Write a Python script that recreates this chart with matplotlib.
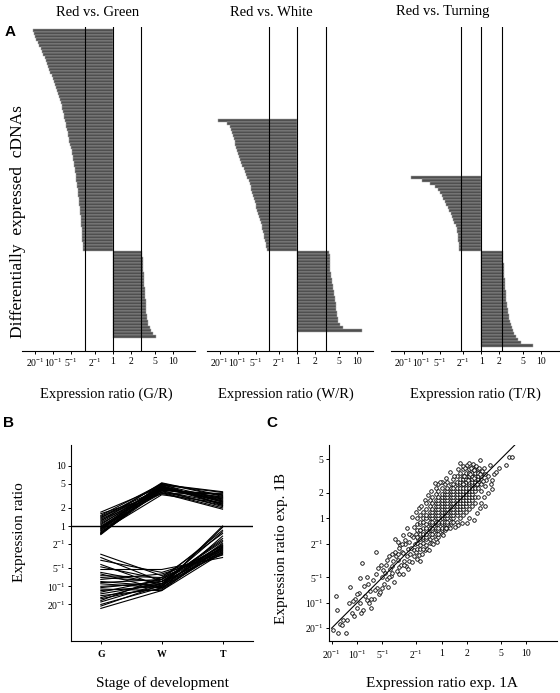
import numpy as np
import matplotlib
matplotlib.use('Agg')
import matplotlib.pyplot as plt
from matplotlib.ticker import FixedLocator, FixedFormatter, NullLocator

plt.rcParams['font.family'] = ['Liberation Serif', 'DejaVu Serif']
plt.rcParams['mathtext.fontset'] = 'custom'
plt.rcParams['mathtext.rm'] = 'Liberation Serif'
plt.rcParams['mathtext.it'] = 'Liberation Serif:italic'
plt.rcParams['mathtext.bf'] = 'Liberation Serif:bold'

# ---------------- data ----------------
titles_a = ["Red vs. Green", "Red vs. White", "Red vs. Turning"]
xlabels_a = ["Expression ratio (G/R)", "Expression ratio (W/R)", "Expression ratio (T/R)"]
thresholds_a = [(1/3, 3), (1/3, 3), (1/2.2, 2.2)]

ratio_tick_vals = [1/20, 1/10, 1/5, 1/2, 1, 2, 5, 10]
ratio_tick_labels = [r'$20^{-1}$', r'$10^{-1}$', r'$5^{-1}$', r'$2^{-1}$', '1', '2', '5', '10']

# Red vs Green (G/R): repressed (top to bottom), induced (top to bottom)
green_neg = [0.045, 0.047, 0.050, 0.052, 0.055, 0.058, 0.062, 0.065, 0.068, 0.072,
             0.076, 0.079, 0.082, 0.085, 0.088, 0.093, 0.097, 0.101, 0.105, 0.110,
             0.114, 0.119, 0.124, 0.129, 0.133, 0.137, 0.141, 0.145, 0.149, 0.153,
             0.157, 0.161, 0.165, 0.169, 0.173, 0.177, 0.182, 0.186, 0.191, 0.197,
             0.203, 0.207, 0.211, 0.215, 0.219, 0.223, 0.227, 0.231, 0.235, 0.239,
             0.243, 0.247, 0.251, 0.255, 0.259, 0.263, 0.267, 0.271, 0.274, 0.277,
             0.280, 0.283, 0.287, 0.290, 0.292, 0.295, 0.297, 0.299, 0.301, 0.303,
             0.306, 0.309, 0.312, 0.315]
green_pos = [3.10, 3.12, 3.14, 3.17, 3.20, 3.22, 3.24, 3.26, 3.28, 3.30,
             3.33, 3.36, 3.40, 3.43, 3.46, 3.49, 3.51, 3.53, 3.56, 3.58,
             3.60, 3.65, 3.72, 3.80, 3.92, 4.10, 4.30, 4.60, 5.30]

white_neg = [0.047, 0.066, 0.073, 0.077, 0.081, 0.083, 0.086, 0.089, 0.091, 0.094,
             0.098, 0.102, 0.106, 0.110, 0.115, 0.120, 0.126, 0.132, 0.139, 0.146,
             0.152, 0.158, 0.164, 0.170, 0.176, 0.182, 0.188, 0.194, 0.200, 0.206,
             0.213, 0.220, 0.228, 0.236, 0.244, 0.252, 0.260, 0.267, 0.274, 0.281,
             0.288, 0.295, 0.302, 0.310]
white_pos = [3.45, 3.47, 3.49, 3.51, 3.53, 3.55, 3.58, 3.63, 3.70, 3.78,
             3.86, 3.93, 4.02, 4.10, 4.18, 4.26, 4.32, 4.38, 4.44, 4.50,
             4.56, 4.64, 4.75, 4.90, 5.15, 5.90, 12.0]

turn_neg = [0.065, 0.100, 0.140, 0.170, 0.190, 0.205, 0.218, 0.230, 0.243, 0.256,
            0.272, 0.288, 0.305, 0.320, 0.338, 0.355, 0.370, 0.385, 0.395, 0.402,
            0.408, 0.413, 0.418, 0.423, 0.428]
turn_pos = [2.29, 2.31, 2.33, 2.35, 2.37, 2.39, 2.41, 2.42, 2.44, 2.46,
            2.48, 2.50, 2.52, 2.55, 2.58, 2.61, 2.64, 2.67, 2.72, 2.78,
            2.84, 2.90, 2.96, 3.03, 3.12, 3.22, 3.35, 3.55, 3.75, 4.05,
            4.60, 7.30]

# Panel B: stage profiles (G, W, T)
stages = ["G", "W", "T"]
up_G = [1.7, 1.6, 1.5, 1.45, 1.4, 1.35, 1.3, 1.25, 1.2, 1.15, 1.1, 1.05, 1.0, 0.97,
        0.95, 0.92, 0.9, 0.88, 0.85, 0.83, 0.8, 0.78, 0.76, 0.75, 0.74, 0.72]
up_W = [4.5, 3.4, 5.0, 4.2, 3.8, 4.9, 4.0, 3.6, 5.2, 4.4, 3.9, 4.7, 4.1, 3.5,
        4.8, 4.3, 3.7, 5.1, 4.6, 4.0, 3.3, 4.5, 4.2, 3.9, 4.8, 4.4]
up_T = [2.6, 3.5, 2.2, 3.0, 2.4, 3.7, 2.8, 2.0, 3.2, 2.5, 3.4, 2.3, 2.9, 1.9,
        3.6, 2.7, 2.2, 3.1, 2.5, 3.3, 2.4, 2.6, 3.0, 2.1, 2.8, 2.3]
lo_G = [0.34, 0.30, 0.27, 0.23, 0.21, 0.19, 0.17, 0.16, 0.15, 0.14, 0.13, 0.12, 0.115, 0.11,
        0.10, 0.095, 0.09, 0.085, 0.08, 0.075, 0.07, 0.065, 0.062, 0.058, 0.055, 0.05, 0.047, 0.043]
lo_W = [0.15, 0.12, 0.17, 0.10, 0.13, 0.19, 0.11, 0.09, 0.14, 0.12, 0.16, 0.10, 0.13, 0.095,
        0.11, 0.12, 0.085, 0.10, 0.13, 0.11, 0.09, 0.12, 0.10, 0.14, 0.11, 0.095, 0.105, 0.085]
lo_T = [0.42, 0.55, 0.35, 0.95, 0.48, 0.30, 0.62, 0.40, 0.75, 0.45, 0.33, 0.52, 0.85, 0.38,
        0.44, 0.58, 0.36, 1.0, 0.47, 0.41, 0.68, 0.34, 0.50, 0.39, 0.80, 0.43, 0.37, 0.46]

# Panel C: scatter, log10 ratios (exp 1A, exp 1B)
c_tail = [(-1.28, -1.32), (-1.25, -0.92), (-1.24, -1.09), (-1.22, -1.36), (-1.2, -1.25),
          (-1.18, -1.26), (-1.16, -1.2), (-1.13, -1.36), (-1.12, -1.2), (-1.1, -1.0),
          (-1.08, -0.81), (-1.06, -1.12), (-1.04, -1.16), (-1.02, -0.95), (-1.0, -1.06),
          (-0.98, -0.88), (-0.97, -1.0), (-0.96, -0.71), (-0.94, -0.53), (-0.93, -1.085),
          (-0.9, -0.92), (-0.885, -0.97), (-0.87, -0.78), (-0.85, -0.86), (-0.83, -1.06),
          (-0.81, -0.73), (-0.8, -0.95), (-0.78, -0.66), (-0.77, -0.395), (-0.76, -0.82),
          (-0.75, -0.59), (-0.74, -0.9), (-0.73, -0.87), (-0.71, -0.7), (-0.69, -0.61),
          (-0.68, -0.78), (-0.66, -0.55), (-0.65, -0.49), (-0.64, -0.72), (-0.63, -0.81),
          (-0.61, -0.6), (-0.6, -0.68), (-0.59, -0.65), (-0.57, -0.5), (-0.56, -0.75),
          (-0.55, -0.24), (-0.54, -0.45), (-0.53, -0.62), (-0.51, -0.49), (-0.5, -0.58),
          (-0.49, -0.32), (-0.48, -0.55), (-0.47, -0.4), (-0.46, -0.66), (-0.45, -0.41),
          (-0.44, -0.5), (-0.43, -0.3), (-0.42, -0.57), (-0.41, -0.45), (-0.4, -0.36),
          (-0.88, -0.7), (-0.84, -0.96), (-0.79, -0.85), (-0.72, -0.55), (-0.7, -0.82),
          (-0.67, -0.65), (-0.62, -0.7), (-0.58, -0.56), (-0.52, -0.42), (-0.5, -0.66),
          (-0.92, -0.8), (-1.0, -0.9), (-1.05, -0.98), (-0.95, -1.12), (-0.86, -1.0)]
c_mid = [(-0.39, -0.5), (-0.38, -0.28), (-0.37, -0.42), (-0.36, -0.35), (-0.35, -0.52),
         (-0.34, -0.22), (-0.33, -0.38), (-0.32, -0.45), (-0.31, -0.3), (-0.3, -0.18),
         (-0.3, -0.4), (-0.29, -0.48), (-0.28, -0.25), (-0.27, -0.44), (-0.26, -0.14),
         (-0.33, -0.1), (-0.36, -0.2), (-0.39, -0.18), (-0.43, -0.26), (-0.41, -0.12),
         (-0.45, -0.2), (-0.47, -0.3), (-0.5, -0.35), (-0.52, -0.28), (-0.55, -0.4),
         (-0.58, -0.42), (-0.62, -0.45), (-0.35, 0.02), (-0.3, 0.08), (-0.27, 0.12),
         (-0.24, 0.15), (-0.2, 0.22), (-0.16, 0.28), (-0.12, 0.32), (-0.23, -0.42),
         (-0.2, -0.38), (-0.17, -0.36), (-0.26, -0.5), (-0.4, -0.6), (-0.44, -0.55)]
c_band = {
    -0.29: [-0.36, -0.29, -0.22, -0.14, -0.07, 0.0],
    -0.25: [-0.36, -0.32, -0.25, -0.18, -0.14, -0.07, -0.04, 0.04],
    -0.22: [-0.36, -0.29, -0.25, -0.22, -0.18, -0.11, -0.04, 0.0, 0.07],
    -0.18: [-0.32, -0.25, -0.22, -0.18, -0.14, -0.11, -0.07, 0.0, 0.04, 0.11, 0.18],
    -0.14: [-0.29, -0.25, -0.18, -0.14, -0.11, -0.07, -0.04, 0.0, 0.04, 0.07, 0.14, 0.22],
    -0.11: [-0.29, -0.22, -0.18, -0.14, -0.11, -0.07, -0.04, 0.0, 0.04, 0.07, 0.11, 0.18, 0.25],
    -0.07: [-0.25, -0.18, -0.14, -0.11, -0.07, -0.04, 0.0, 0.04, 0.07, 0.11, 0.14, 0.18, 0.22, 0.29, 0.36],
    -0.04: [-0.22, -0.18, -0.14, -0.11, -0.07, -0.04, 0.0, 0.04, 0.07, 0.11, 0.14, 0.18, 0.22, 0.25, 0.32, 0.40],
    0.0: [-0.18, -0.14, -0.11, -0.07, -0.04, 0.0, 0.04, 0.07, 0.11, 0.14, 0.18, 0.22, 0.25, 0.29, 0.36, 0.43],
    0.04: [-0.14, -0.11, -0.07, -0.04, 0.0, 0.04, 0.07, 0.11, 0.14, 0.18, 0.22, 0.25, 0.29, 0.32, 0.40],
    0.07: [-0.11, -0.07, -0.04, 0.0, 0.04, 0.07, 0.11, 0.14, 0.18, 0.22, 0.25, 0.29, 0.32, 0.36, 0.43],
    0.11: [-0.07, -0.04, 0.0, 0.04, 0.07, 0.11, 0.14, 0.18, 0.22, 0.25, 0.29, 0.32, 0.36, 0.40],
    0.14: [-0.04, 0.0, 0.04, 0.07, 0.11, 0.14, 0.18, 0.22, 0.25, 0.29, 0.32, 0.36, 0.40, 0.47],
    0.18: [-0.04, 0.04, 0.07, 0.11, 0.14, 0.18, 0.22, 0.25, 0.29, 0.32, 0.36, 0.40, 0.43, 0.50],
    0.22: [0.0, 0.07, 0.11, 0.14, 0.18, 0.22, 0.25, 0.29, 0.32, 0.36, 0.40, 0.43, 0.47, 0.54],
    0.25: [0.04, 0.11, 0.14, 0.18, 0.22, 0.25, 0.29, 0.32, 0.36, 0.40, 0.43, 0.47, 0.50, 0.58],
    0.29: [0.07, 0.14, 0.18, 0.22, 0.25, 0.29, 0.32, 0.36, 0.40, 0.43, 0.47, 0.50, 0.54],
    0.32: [0.11, 0.18, 0.22, 0.25, 0.29, 0.32, 0.36, 0.40, 0.43, 0.47, 0.50, 0.54, 0.58],
    0.36: [0.14, 0.22, 0.25, 0.29, 0.32, 0.36, 0.40, 0.43, 0.47, 0.50, 0.54, 0.61],
    0.40: [0.18, 0.25, 0.32, 0.36, 0.40, 0.43, 0.47, 0.50, 0.54, 0.58],
    0.43: [0.25, 0.36, 0.40, 0.43, 0.47, 0.50, 0.54, 0.58],
    0.47: [0.32, 0.40, 0.47, 0.50, 0.54],
}
c_top = [(0.22, 0.65), (0.26, 0.62), (0.28, 0.6), (0.3, 0.63), (0.33, 0.66), (0.35, 0.6),
         (0.37, 0.64), (0.39, 0.57), (0.41, 0.62), (0.44, 0.6), (0.46, 0.69), (0.48, 0.56),
         (0.5, 0.6), (0.52, 0.52), (0.53, 0.45), (0.55, 0.5), (0.57, 0.63), (0.58, 0.4),
         (0.6, 0.45), (0.62, 0.52), (0.65, 0.55), (0.68, 0.6), (0.76, 0.63), (0.8, 0.72),
         (0.84, 0.72), (0.51, 0.38), (0.49, 0.44), (0.45, 0.52), (0.34, 0.52), (0.31, 0.45),
         (0.27, 0.5), (0.38, 0.48), (0.42, 0.4), (0.26, 0.41), (0.2, 0.58), (0.15, 0.5),
         (0.1, 0.55), (0.05, 0.48), (-0.02, 0.43), (-0.08, 0.42)]
c_out = [(0.55, 0.3), (0.5, 0.25), (0.47, 0.18), (0.45, 0.12), (0.42, 0.06), (0.38, -0.02),
         (0.33, 0.0), (0.3, -0.06), (0.24, -0.05), (0.2, -0.08), (0.16, -0.1), (0.1, -0.12),
         (0.05, -0.12), (0.52, 0.15), (0.6, 0.35), (0.02, -0.2), (-0.1, -0.3), (-0.15, -0.38),
         (-0.05, -0.28)]
c_fit = [0.05, 7.4]

# ---------------- figure ----------------
W, H = 560, 693
fig = plt.figure(figsize=(W / 100, H / 100), dpi=100)


def ax_px(l, t, r, b):
    return fig.add_axes([l / W, 1 - b / H, (r - l) / W, (b - t) / H])


def style_ratio_axis(axis):
    axis.set_major_locator(FixedLocator(ratio_tick_vals))
    axis.set_major_formatter(FixedFormatter(ratio_tick_labels))
    axis.set_minor_locator(NullLocator())


TICK = dict(direction='out', length=2.5, width=0.7, labelsize=7, pad=1.5)

# ---- Panel A ----
a_boxes = [(22, 27, 195, 351, 113.0), (207, 27, 373, 351, 297.3), (391, 27, 560, 351, 481.3)]
a_data = [(green_neg, green_pos), (white_neg, white_pos), (turn_neg, turn_pos)]
PX_DEC = 59.6
title_x = [98, 271, 443]
xlabel_x = [106, 286, 475]
for i, ((l, t, r, b, x1), (neg, pos), thr) in enumerate(zip(a_boxes, a_data, thresholds_a)):
    ax = ax_px(l, t, r, b)
    ax.set_xscale('log')
    ax.set_xlim(10 ** (-(x1 - l) / PX_DEC), 10 ** ((r - x1) / PX_DEC))
    ax.set_ylim(33.2, -74.8)
    neg = np.array(neg)
    pos = np.array(pos)
    yneg = np.arange(len(neg)) - len(neg) + 0.5
    ypos = np.arange(len(pos)) + 0.5
    ax.barh(yneg, 1 - neg, left=neg, height=1.0, color='#4f4f4f',
            edgecolor='#a8a8a8', linewidth=0.35, zorder=2)
    ax.barh(ypos, pos - 1, left=1, height=1.0, color='#4f4f4f',
            edgecolor='#a8a8a8', linewidth=0.35, zorder=2)
    for v in (thr[0], 1, thr[1]):
        ax.axvline(v, color='black', lw=0.8, zorder=3)
    for s in ('top', 'right', 'left'):
        ax.spines[s].set_visible(False)
    ax.spines['bottom'].set_linewidth(0.8)
    ax.set_yticks([])
    style_ratio_axis(ax.xaxis)
    ax.tick_params(axis='x', **TICK)
    fig.text(title_x[i] / W, 1 - 12 / H, titles_a[i], ha='center', va='center', fontsize=10.5)
    fig.text(xlabel_x[i] / W, 1 - 394 / H, xlabels_a[i], ha='center', va='center', fontsize=10.5)

fig.text(18 / W, 1 - 222 / H, "Differentially  expressed  cDNAs", rotation=90,
         ha='center', va='center', fontsize=12.5)

# ---- Panel B ----
axb = ax_px(71, 445, 253, 641)
axb.set_yscale('log')
axb.set_xlim(-0.49, 2.5)
axb.set_ylim(10 ** ((526 - 641) / 60.3), 10 ** ((526 - 445) / 60.3))
xs = [0, 1, 2]
for g, w, t in zip(up_G, up_W, up_T):
    axb.plot(xs, [g, w, t], color='black', lw=0.8)
for g, w, t in zip(lo_G, lo_W, lo_T):
    axb.plot(xs, [g, w, t], color='black', lw=0.8)
axb.axhline(1, color='black', lw=1.0)
for s in ('top', 'right'):
    axb.spines[s].set_visible(False)
for s in ('left', 'bottom'):
    axb.spines[s].set_linewidth(0.8)
axb.set_xticks(xs)
axb.set_xticklabels(stages, fontweight='bold')
axb.yaxis.set_major_locator(FixedLocator([1/20, 1/10, 1/5, 1/2, 1, 2, 5, 10]))
axb.yaxis.set_major_formatter(FixedFormatter([r'$20^{-1}$', r'$10^{-1}$', r'$5^{-1}$', r'$2^{-1}$',
                                              '1', '2', '5', '10']))
axb.yaxis.set_minor_locator(NullLocator())
axb.tick_params(axis='both', **TICK)
axb.tick_params(axis='x', pad=4)
fig.text(20 / W, 1 - 532 / H, "Expression ratio", rotation=90, ha='center', va='center', fontsize=11)
fig.text(162 / W, 1 - 683 / H, "Stage of development", ha='center', va='center', fontsize=11)

# ---- Panel C ----
axc = ax_px(329.3, 445, 557, 641)
axc.set_xscale('log')
axc.set_yscale('log')
axc.set_xlim(10 ** ((329.3 - 441.5) / 84.5), 10 ** ((557 - 441.5) / 84.5))
axc.set_ylim(10 ** ((518.3 - 641) / 84.5), 10 ** ((518.3 - 445) / 84.5))
pts = list(c_tail) + list(c_mid) + [(k, v) for k, vs in c_band.items() for v in vs] + list(c_top) + list(c_out)
lx = np.array([p[0] for p in pts])
ly = np.array([p[1] for p in pts])
axc.scatter(10 ** lx, 10 ** ly, s=6.5, facecolors='white', edgecolors='black', linewidths=0.6, zorder=2)
axc.plot(c_fit, c_fit, color='black', lw=0.8, zorder=3)
for s in ('top', 'right'):
    axc.spines[s].set_visible(False)
for s in ('left', 'bottom'):
    axc.spines[s].set_linewidth(0.8)
style_ratio_axis(axc.xaxis)
axc.yaxis.set_major_locator(FixedLocator([1/20, 1/10, 1/5, 1/2, 1, 2, 5]))
axc.yaxis.set_major_formatter(FixedFormatter([r'$20^{-1}$', r'$10^{-1}$', r'$5^{-1}$', r'$2^{-1}$',
                                              '1', '2', '5']))
axc.yaxis.set_minor_locator(NullLocator())
axc.tick_params(axis='both', **TICK)
axc.tick_params(axis='x', pad=3)
fig.text(282 / W, 1 - 548 / H, "Expression ratio exp. 1B", rotation=90, ha='center', va='center', fontsize=11)
fig.text(442 / W, 1 - 684 / H, "Expression ratio exp. 1A", ha='center', va='center', fontsize=11)

# panel letters
for lab, x, y in (("A", 10, 32), ("B", 9, 423), ("C", 272, 423)):
    fig.text(x / W, 1 - y / H, lab, ha='center', va='center', fontsize=11,
             fontweight='bold', family=['Liberation Sans', 'DejaVu Sans'])

fig.savefig('out.png', dpi=100)
